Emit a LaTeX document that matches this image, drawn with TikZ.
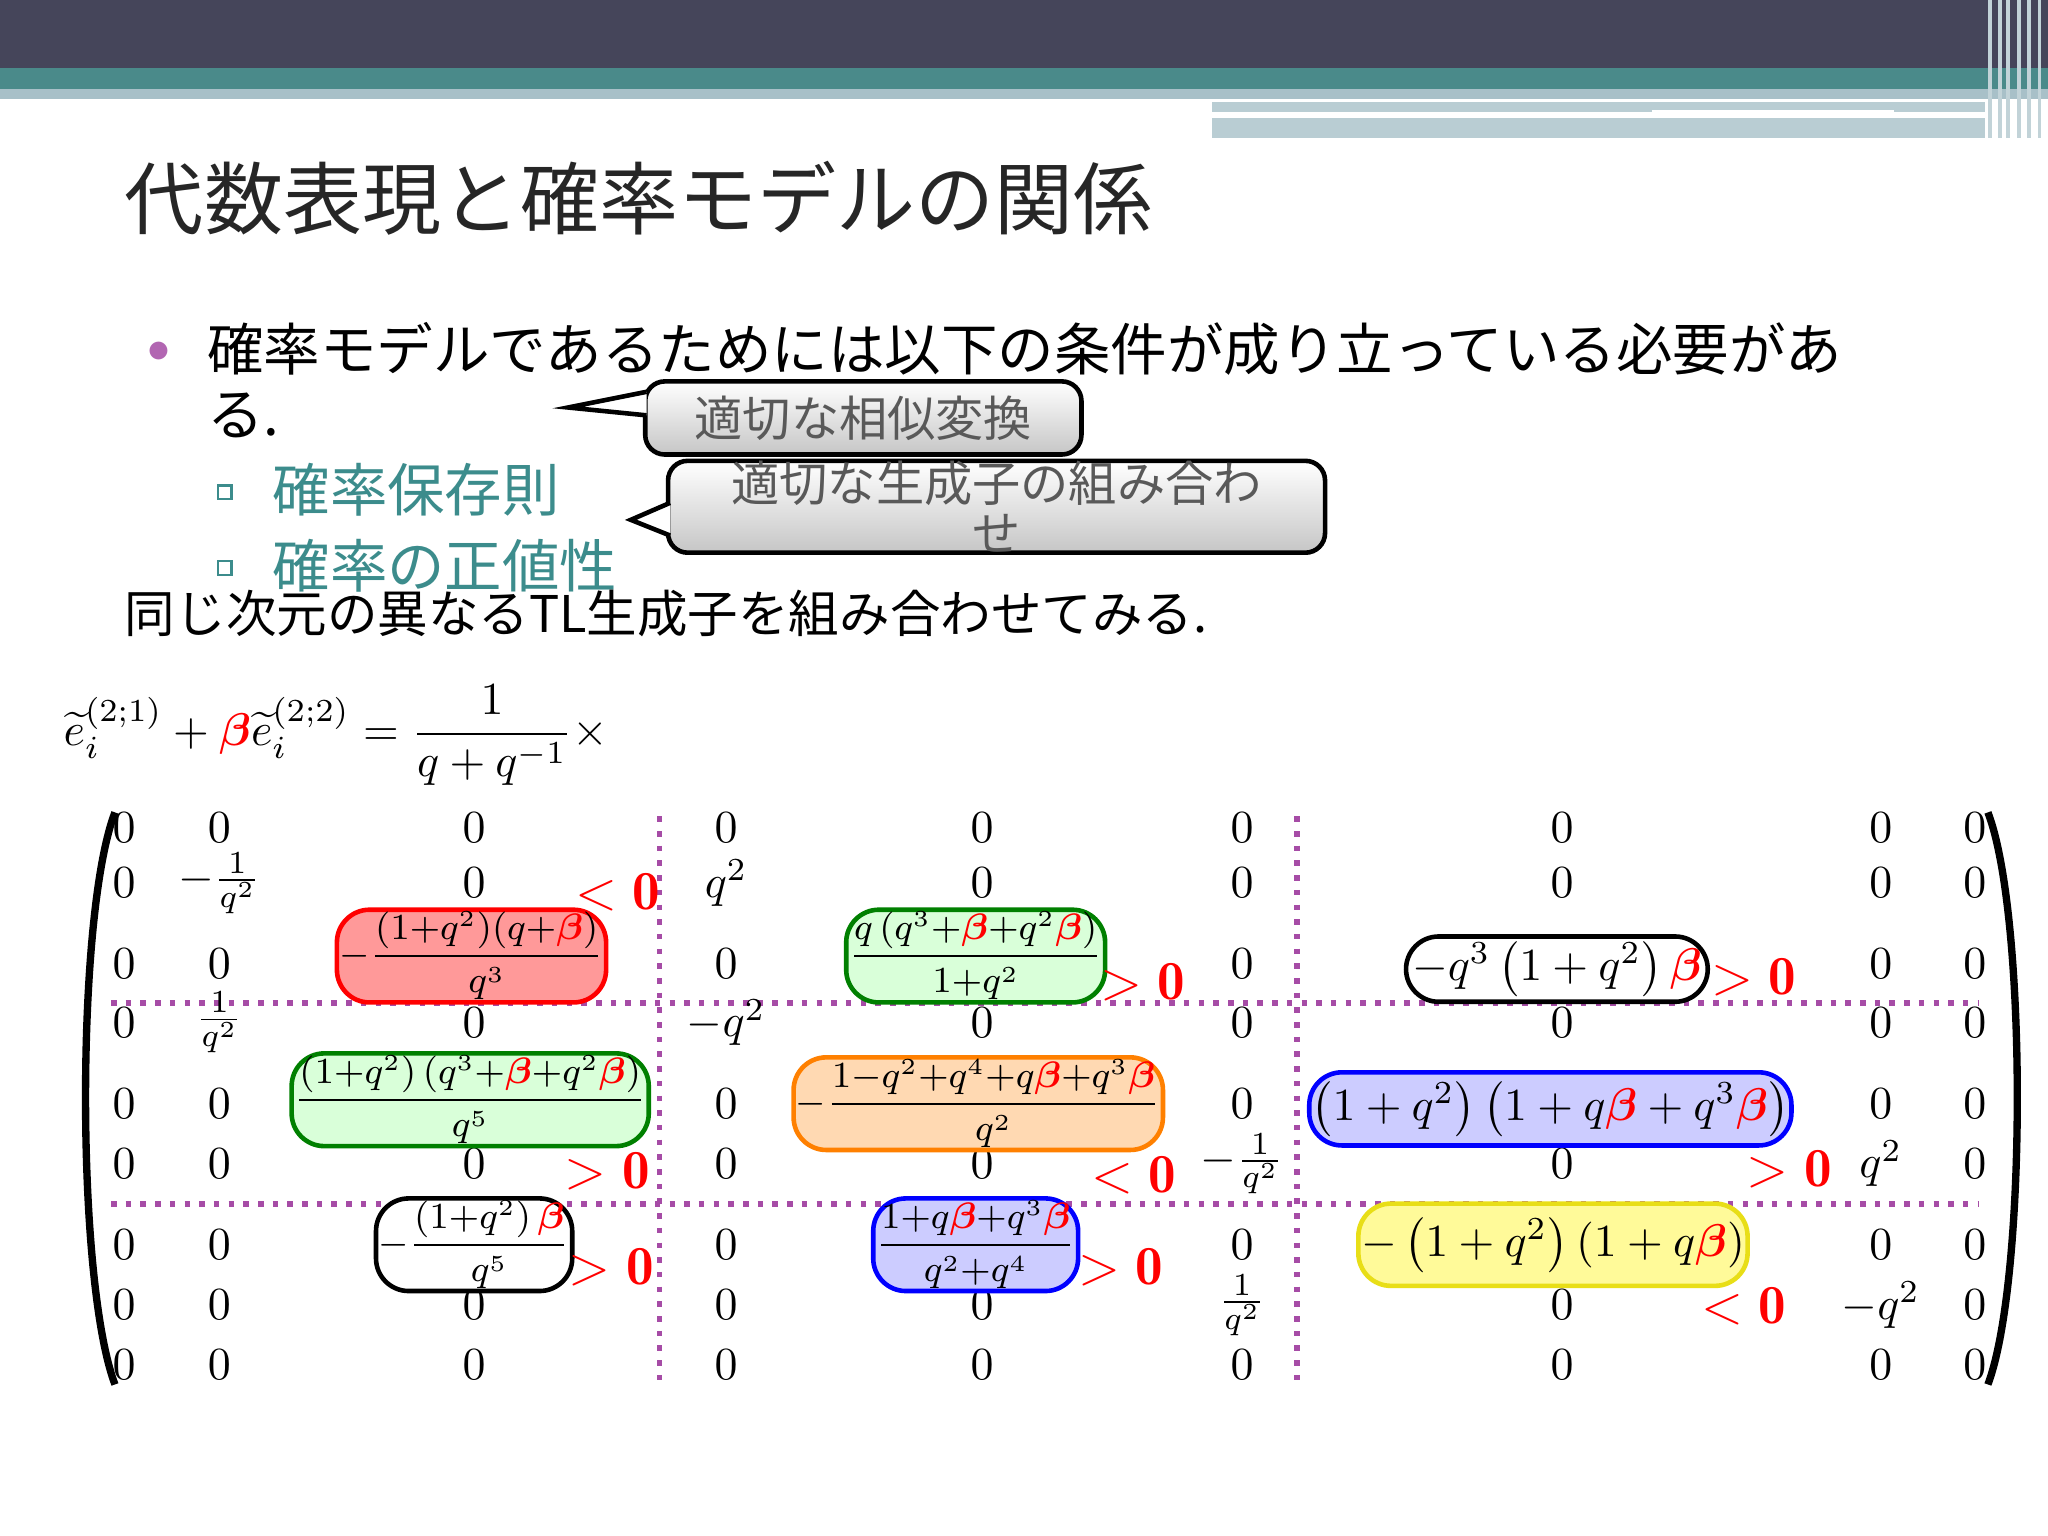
\documentclass[tikz,border=0pt]{standalone}
\usepackage{amsmath,bm}
\usepackage{fontspec}
\newfontfamily\cjk{Noto Sans CJK JP}
\definecolor{topdark}{HTML}{45455A}
\definecolor{teal1}{HTML}{4A8A8A}
\definecolor{teal2}{HTML}{A8C0C8}
\definecolor{subteal}{HTML}{3C8C8C}
\newcommand{\B}{\textcolor{red}{\bm{\beta}}}
\tikzset{
 ent/.style={font=\fontsize{10}{12}\selectfont,inner sep=0pt},
 bx/.style={draw,rounded corners=2.5mm,line width=1pt,inner sep=0.5pt,font=\fontsize{7.6}{9}\selectfont},
 rel/.style={text=red,font=\fontsize{12}{14}\selectfont,inner sep=0pt},
 dl/.style={draw=violet!70,dotted,line width=1.2pt},
 par/.style={draw,line width=1.6pt},
 co/.style={draw,line width=1pt,rounded corners=1.5mm,top color=white,bottom color=gray!45,text=gray!70!black,font=\cjk\fontsize{10.5}{12}\selectfont,align=center,inner sep=0pt}
}
\begin{document}
\begin{tikzpicture}[x=0.01cm,y=-0.01cm]
\useasboundingbox (0,0) rectangle (1568,1176);
\fill[white] (0,0) rectangle (1568,1176);
% top bars
\fill[topdark] (0,0) rectangle (1568,52);
\fill[teal1] (0,52) rectangle (1568,68);
\fill[teal2] (0,68) rectangle (1568,76);
\fill[teal2!80] (928,78) rectangle (1520,86);
\fill[teal2!80] (928,90) rectangle (1520,106);
\fill[white] (1265,84) rectangle (1450,90);
\foreach \x in {1522,1530,1536,1544,1552,1560}{\fill[teal2!70] (\x,0) rectangle ++(3,106);}
% title
\node[anchor=west,inner sep=0pt,font=\cjk\fontsize{17.2}{19}\selectfont,text=black!85] (title) at (95,152) {代数表現と確率モデルの関係};
% bullets
\node[text=violet!60,font=\fontsize{10}{10}\selectfont,inner sep=0pt] (b1) at (122,270) {$\bullet$};
\node[anchor=west,inner sep=0pt,font=\cjk\fontsize{12.3}{14}\selectfont] (t1) at (158,267) {確率モデルであるためには以下の条件が成り立っている必要があ};
\node[anchor=west,inner sep=0pt,font=\cjk\fontsize{12.3}{14}\selectfont] (t2) at (158,318) {る.};
\node[draw=subteal,line width=0.5pt,minimum size=3pt,inner sep=0pt] (s1) at (172,377) {};
\node[draw=subteal,line width=0.5pt,minimum size=3pt,inner sep=0pt] (s2) at (172,435) {};
\node[anchor=west,inner sep=0pt,text=subteal,font=\cjk\fontsize{12.5}{14}\selectfont] (t3) at (208,375) {確率保存則};
\node[anchor=west,inner sep=0pt,text=subteal,font=\cjk\fontsize{12.5}{14}\selectfont] (t4) at (208,433) {確率の正値性};
\node[anchor=west,inner sep=0pt,font=\cjk\fontsize{11}{13}\selectfont] (t5) at (95,470) {同じ次元の異なるTL生成子を組み合わせてみる.};
% callouts
\node[co,minimum width=334*0.01cm,minimum height=56*0.01cm] (c1) at (661,320) {適切な相似変換};
\node[co,minimum width=503*0.01cm,minimum height=57*0.01cm,font=\cjk\fontsize{10.5}{11}\selectfont] (c2) at (763,388) {適切な生成子の組み合わ\\せ};
\coordinate (p1) at (435,312);
\coordinate (p2) at (483,398);
\fill[white] (495,300) -- (p1) -- (495,318) -- cycle;
\draw[line width=1pt] (495,300) -- (p1) -- (495,318);
\fill[white] (513,385) -- (p2) -- (513,410) -- cycle;
\draw[line width=1pt] (513,385) -- (p2) -- (513,410);
% equation
\node[anchor=west,inner sep=0pt,font=\fontsize{10}{12}\selectfont] (eq) at (48,563) {$\widetilde{e}_i^{(2;1)}+\B\widetilde{e}_i^{(2;2)}=\dfrac{1}{q+q^{-1}}\times$};
% dotted lines
\draw[dl] (505,625) -- (505,1060);
\draw[dl] (993,625) -- (993,1060);
\draw[dl] (85,768) -- (1515,768);
\draw[dl] (85,922) -- (1515,922);
% parentheses
\coordinate (lpt) at (88,622);
\coordinate (lpb) at (88,1060);
\coordinate (rpt) at (1522,622);
\coordinate (rpb) at (1522,1060);
\draw[par] (lpt) .. controls (58,700) and (58,980) .. (lpb);
\draw[par] (rpt) .. controls (1552,700) and (1552,980) .. (rpb);
% entries
\foreach \y in {634,1045}{
 \foreach \x in {95,168,363,556,752,951,1196,1440,1512} {\node[ent] at (\x,\y) {$0$};}}
\foreach \x/\e in {95/0,168/-\frac{1}{q^2},363/0,556/q^2,752/0,951/0,1196/0,1440/0,1512/0}{\node[ent] at (\x,676) {$\e$};}
\foreach \x/\e in {95/0,168/0,556/0,951/0,1440/0,1512/0}{\node[ent] at (\x,738) {$\e$};}
\foreach \x/\e in {95/0,168/\frac{1}{q^2},363/0,556/-q^2,752/0,951/0,1196/0,1440/0,1512/0}{\node[ent] at (\x,783) {$\e$};}
\foreach \x/\e in {95/0,168/0,556/0,951/0,1440/0,1512/0}{\node[ent] at (\x,845) {$\e$};}
\foreach \x/\e in {95/0,168/0,363/0,556/0,752/0,951/-\frac{1}{q^2},1196/0,1440/q^2,1512/0}{\node[ent] at (\x,891) {$\e$};}
\foreach \x/\e in {95/0,168/0,556/0,951/0,1440/0,1512/0}{\node[ent] at (\x,953) {$\e$};}
\foreach \x/\e in {95/0,168/0,363/0,556/0,752/0,951/\frac{1}{q^2},1196/0,1440/-q^2,1512/0}{\node[ent] at (\x,999) {$\e$};}
% boxes
\node[bx,draw=red,fill=red!40,minimum width=203*0.01cm,minimum height=71*0.01cm] (r3a) at (361,732) {$-\dfrac{(1{+}q^2)(q{+}\B)}{q^3}$};
\node[bx,draw=green!50!black,fill=green!15,minimum width=182*0.01cm,minimum height=71*0.01cm] (r3b) at (747,732) {$\dfrac{q\left(q^3{+}\B{+}q^2\B\right)}{1{+}q^2}$};
\node[bx,draw=black,fill=white,minimum width=231*0.01cm,minimum height=50*0.01cm,font=\fontsize{9.6}{12}\selectfont] (r3c) at (1192,742) {$-q^3\left(1+q^2\right)\B$};
\node[bx,draw=green!50!black,fill=green!15,minimum width=251*0.01cm,minimum height=71*0.01cm] (r5a) at (360,842) {$\dfrac{\left(1{+}q^2\right)\left(q^3{+}\B{+}q^2\B\right)}{q^5}$};
\node[bx,draw=orange,fill=orange!30,minimum width=271*0.01cm,minimum height=63*0.01cm] (r5b) at (749,845) {$-\dfrac{1{-}q^2{+}q^4{+}q\B{+}q^3\B}{q^2}$};
\node[bx,draw=blue,fill=blue!20,minimum width=360*0.01cm,minimum height=56*0.01cm,font=\fontsize{10.2}{12}\selectfont] (r5c) at (1187,849) {$\left(1+q^2\right)\left(1+q\B+q^3\B\right)$};
\node[bx,draw=black,fill=white,minimum width=144*0.01cm,minimum height=63*0.01cm] (r7a) at (363,953) {$-\dfrac{\left(1{+}q^2\right)\B}{q^5}$};
\node[bx,draw=blue,fill=blue!20,minimum width=149*0.01cm,minimum height=63*0.01cm] (r7b) at (747,953) {$\dfrac{1{+}q\B{+}q^3\B}{q^2{+}q^4}$};
\node[bx,draw=yellow!90!black,fill=yellow!40,minimum width=298*0.01cm,minimum height=63*0.01cm,font=\fontsize{9.8}{12}\selectfont] (r7c) at (1189,953) {$-\left(1+q^2\right)\left(1+q\B\right)$};
% relations
\node[rel] at (473,683) {$<\mathbf{0}$};
\node[rel] at (875,752) {$>\mathbf{0}$};
\node[rel] at (1343,748) {$>\mathbf{0}$};
\node[rel] at (465,897) {$>\mathbf{0}$};
\node[rel] at (868,900) {$<\mathbf{0}$};
\node[rel] at (1370,895) {$>\mathbf{0}$};
\node[rel] at (468,970) {$>\mathbf{0}$};
\node[rel] at (858,970) {$>\mathbf{0}$};
\node[rel] at (1335,1000) {$<\mathbf{0}$};
\end{tikzpicture}
\end{document}
